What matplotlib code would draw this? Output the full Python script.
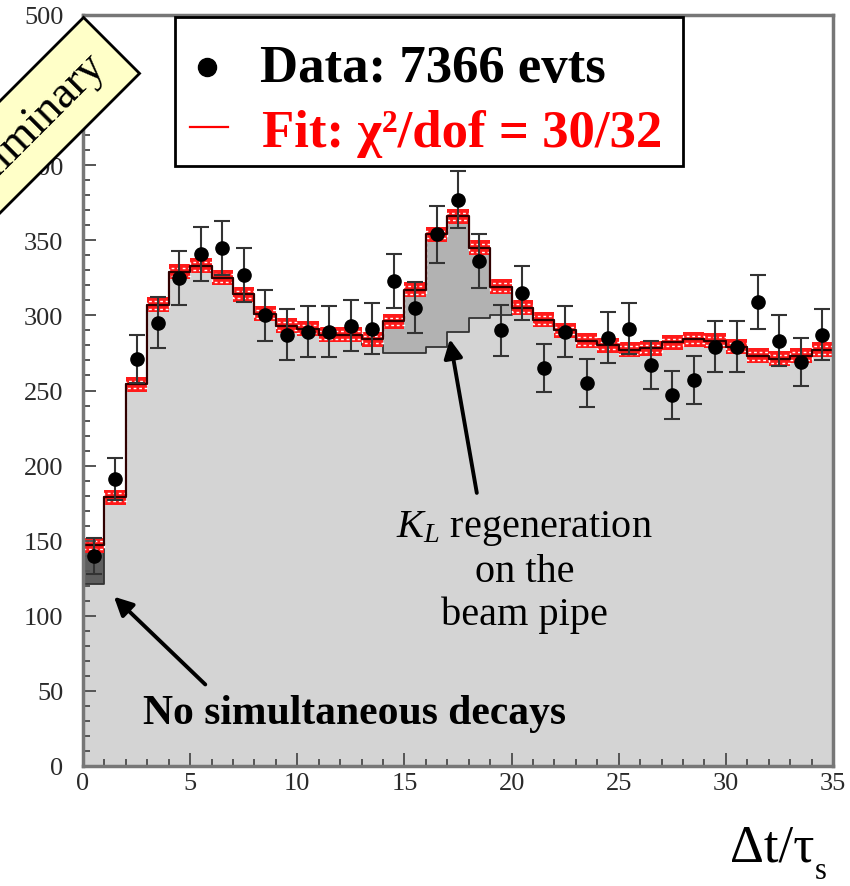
import numpy as np
import matplotlib
matplotlib.use("Agg")
import matplotlib.pyplot as plt
from matplotlib.patches import Rectangle
from matplotlib.lines import Line2D
from matplotlib.ticker import MultipleLocator

plt.rcParams['font.family'] = ['Liberation Serif', 'DejaVu Serif']
plt.rcParams['mathtext.fontset'] = 'custom'
plt.rcParams['mathtext.rm'] = 'Liberation Serif'
plt.rcParams['mathtext.it'] = 'Liberation Serif:italic'
plt.rcParams['mathtext.bf'] = 'Liberation Serif:bold'

# ---------------- data ----------------
bin_lo, bin_hi = 0, 35
data_counts = [140, 191, 271, 295, 325, 341, 345, 327, 300, 287, 289, 289, 293, 291,
               323, 305, 354, 377, 336, 290, 315, 265, 289, 255, 285, 291, 267, 247,
               257, 279, 279, 309, 283, 269, 287]
data_errors = [12, 14, 16, 17, 18, 18, 18, 18, 17, 17, 17, 17, 17, 17,
               18, 17, 19, 19, 18, 17, 18, 16, 17, 16, 17, 17, 16, 16,
               16, 17, 17, 18, 17, 16, 17]
fit_total = [147, 179, 254, 307, 329, 333, 325, 314, 301, 293, 291, 287, 287, 284,
             296, 317, 354, 366, 345, 319, 305, 297, 290, 283, 280, 277, 278, 282,
             284, 283, 279, 273, 271, 273, 277]
kl_regen = [0, 0, 0, 0, 0, 0, 0, 0, 0, 0, 0, 0, 3, 4,
            21, 42, 75, 77, 47, 19, 0, 0, 0, 0, 0, 0, 0, 0,
            0, 0, 0, 0, 0, 0, 0]
simult = [26] + [0] * 34
fit_err = 5.0

y_ticks = [0, 50, 100, 150, 200, 250, 300, 350, 400, 450, 500]
x_ticks = [0, 5, 10, 15, 20, 25, 30, 35]

W, H = 850, 887
def px(x, y):
    return (x / W, 1 - y / H)

fig = plt.figure(figsize=(8.5, 8.87), dpi=100)
ax = fig.add_axes([83 / W, 1 - 767 / H, (833 - 83) / W, (767 - 16) / H])

edges = np.arange(bin_lo, bin_hi + 1)
centers = edges[:-1] + 0.5
fit = np.array(fit_total, float)
reg = np.array(kl_regen, float)
sim = np.array(simult, float)
main = fit - reg - sim

def ext(v):
    return np.append(v, v[-1])

ax.fill_between(edges, 0, ext(main), step='post', color='#d4d4d4', lw=0, zorder=1)
ax.fill_between(edges, ext(main), ext(main + reg), step='post', color='#b2b2b2', lw=0, zorder=1.1)
ax.fill_between(edges, ext(main), ext(main + sim), step='post', color='#5e5e5e', lw=0, zorder=1.1)
ax.step(edges, ext(main), where='post', color='#333333', lw=1.3, zorder=1.2)

# fit band
ax.fill_between(edges, ext(fit - fit_err), ext(fit + fit_err), step='post',
                color='#ff1a1a', lw=0, zorder=1.4)
ax.step(edges, ext(fit + fit_err * 0.5), where='post', color='white', lw=1.0,
        ls=(0, (2, 2)), zorder=1.45)
ax.step(edges, ext(fit - fit_err * 0.5), where='post', color='white', lw=1.0,
        ls=(0, (2, 2)), zorder=1.45)
ax.step(edges, ext(fit), where='post', color='#300000', lw=1.6, zorder=1.5)
ax.vlines([bin_lo], 0, fit[0], color='#b03030', lw=1.8, zorder=1.5)
ax.vlines([bin_hi], 0, fit[-1], color='#b03030', lw=1.8, zorder=1.5)

# data
ax.errorbar(centers, data_counts, yerr=data_errors, fmt='o', color='black',
            ecolor='#333333', elinewidth=1.5, capsize=6, capthick=1.5,
            markersize=9.5, zorder=3)

ax.set_xlim(bin_lo, bin_hi)
ax.set_ylim(0, 500)
ax.set_xticks(x_ticks)
ax.set_yticks(y_ticks)
ax.xaxis.set_minor_locator(MultipleLocator(1))
ax.yaxis.set_minor_locator(MultipleLocator(10))
ax.tick_params(which='both', direction='in', color='#555555', width=1.4,
               labelsize=19, labelcolor='#2a2a2a', top=False, right=False)
ax.tick_params(which='major', length=9.5)
ax.tick_params(which='minor', length=5)
ax.tick_params(axis='y', pad=14)
ax.tick_params(axis='x', pad=4)
ax.set_axisbelow(False)
for s in ax.spines.values():
    s.set_color('#777777')
    s.set_linewidth(2.5)
    s.set_zorder(2.6)

# annotations
ax.annotate('', xy=(17.1, 286), xytext=(18.4, 180),
            arrowprops=dict(arrowstyle='-|>', lw=2.8, color='black', mutation_scale=28),
            zorder=4)
ax.annotate('', xy=(1.35, 114), xytext=(5.8, 53),
            arrowprops=dict(arrowstyle='-|>', lw=2.8, color='black', mutation_scale=28),
            zorder=4)
ax.text(20.6, 130, '$K_L$ regeneration\non the\nbeam pipe', ha='center', va='center',
        fontsize=29, linespacing=1.2, zorder=4)
ax.text(12.65, 35, 'No simultaneous decays', ha='center', va='center',
        fontsize=30, fontweight='bold', zorder=4)

# legend box
fig.add_artist(Rectangle(px(175, 167), (683 - 175) / W, (167 - 18) / H,
                         transform=fig.transFigure, fc='white', ec='black', lw=2, zorder=5))
fig.add_artist(Line2D([px(207, 0)[0]], [px(0, 68)[1]], marker='o', ms=13, color='black',
                      transform=fig.transFigure, zorder=6))
fig.add_artist(Line2D([px(190, 0)[0], px(228, 0)[0]], [px(0, 128)[1]] * 2, color='red',
                      lw=1.6, transform=fig.transFigure, zorder=6))
fig.text(*px(260, 82), 'Data: 7366 evts', fontsize=38, fontweight='bold', color='black',
         ha='left', va='baseline', zorder=6)
fig.text(*px(262, 147), 'Fit: χ²/dof = 30/32', fontsize=38, fontweight='bold', color='#ff0000',
         ha='left', va='baseline', zorder=6)

# preliminary stamp
fig.text(*px(22, 136), 'Preliminary', rotation=45, rotation_mode='anchor',
         ha='center', va='center', fontsize=33, zorder=7,
         bbox=dict(boxstyle='square,pad=0.4', fc='#ffffc8', ec='black', lw=2))

# axis label
fig.text(*px(730, 862), 'Δt/τ', fontsize=38, ha='left', va='baseline')
fig.text(*px(815, 879), 's', fontsize=22, ha='left', va='baseline')

fig.savefig('out.png', dpi=100)
